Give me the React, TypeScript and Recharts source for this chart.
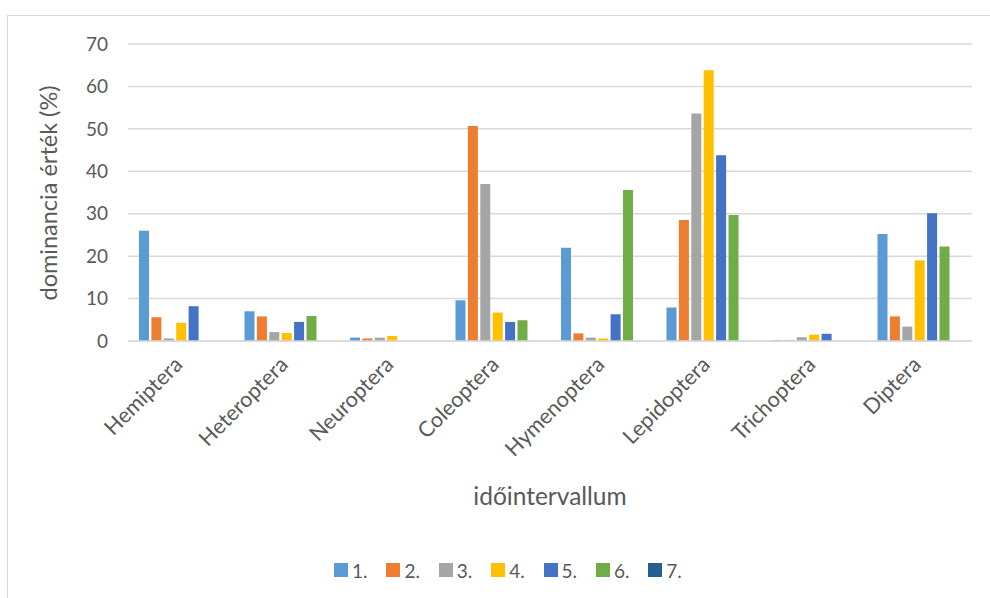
import React from "react";
import { BarChart, Bar, XAxis, YAxis, CartesianGrid } from "recharts";

const categories = [
  "Hemiptera",
  "Heteroptera",
  "Neuroptera",
  "Coleoptera",
  "Hymenoptera",
  "Lepidoptera",
  "Trichoptera",
  "Diptera",
];

const s1 = [26.0, 7.0, 0.8, 9.6, 22.0, 7.9, 0.2, 25.2];
const s2 = [5.6, 5.8, 0.6, 50.7, 1.8, 28.5, 0.2, 5.8];
const s3 = [0.6, 2.1, 0.8, 37.0, 0.8, 53.6, 0.9, 3.4];
const s4 = [4.3, 1.9, 1.2, 6.7, 0.6, 63.8, 1.5, 19.0];
const s5 = [8.2, 4.5, 0, 4.5, 6.3, 43.8, 1.7, 30.1];
const s6 = [0, 5.9, 0, 4.9, 35.6, 29.7, 0, 22.3];
const s7 = [null, null, null, null, null, null, null, null];

const seriesNames = ["1.", "2.", "3.", "4.", "5.", "6.", "7."];
const seriesColors = ["#5B9BD5", "#ED7D31", "#A5A5A5", "#FFC000", "#4472C4", "#70AD47", "#255E91"];
const yTicks = [0, 10, 20, 30, 40, 50, 60, 70];

const allSeries = [s1, s2, s3, s4, s5, s6, s7];

const data = categories.map((name, i) => {
  const row: any = { name };
  allSeries.forEach((s, k) => {
    row["s" + (k + 1)] = s[i];
  });
  return row;
});

const FONT = "Lato, 'Open Sans', sans-serif";
const TEXT = "#595959";

const XTick = (props: any) => {
  const { x, y, payload } = props;
  return (
    <g transform={`translate(${x + 3},${y + 17})`}>
      <text
        x={0}
        y={0}
        textAnchor="end"
        transform="rotate(-45)"
        fontSize={21.5}
        fontFamily={FONT}
        fill={TEXT}
      >
        {payload.value}
      </text>
    </g>
  );
};

export default function App() {
  return (
    <div
      style={{
        position: "absolute",
        left: 0,
        top: 0,
        width: 990,
        height: 598,
        overflow: "hidden",
        background: "#fff",
      }}
    >
      <div
        style={{
          position: "absolute",
          left: 7,
          top: 15,
          width: 1000,
          height: 600,
          border: "1.5px solid #d9d9d9",
        }}
      />
      <div style={{ position: "absolute", left: 0, top: 0 }}>
        <BarChart
          width={990}
          height={598}
          data={data}
          margin={{ top: 44, right: 18, left: 0, bottom: 0 }}
          barGap={2.4}
          barSize={10}
        >
          <CartesianGrid vertical={false} stroke="#d9d9d9" strokeWidth={1.5} />
          <XAxis
            dataKey="name"
            height={257}
            axisLine={{ stroke: "#d9d9d9", strokeWidth: 1.5 }}
            tickLine={false}
            tick={<XTick />}
            interval={0}
            label={{
              content: () => (
                <text
                  x={550}
                  y={505}
                  textAnchor="middle"
                  fontSize={24.5}
                  fontFamily={FONT}
                  fill={TEXT}
                >
                  időintervallum
                </text>
              ),
            }}
          />
          <YAxis
            width={128}
            domain={[0, 70]}
            ticks={yTicks}
            axisLine={false}
            tickLine={false}
            tickSize={0}
            tickMargin={20}
            tick={{ fontSize: 19, fontFamily: FONT, fill: TEXT }}
            label={{
              content: () => (
                <text
                  x={48}
                  y={193}
                  transform="rotate(-90 48 193)"
                  textAnchor="middle"
                  dominantBaseline="central"
                  fontSize={23.5}
                  fontFamily={FONT}
                  fill={TEXT}
                >
                  dominancia érték (%)
                </text>
              ),
            }}
          />
          {seriesNames.map((n, k) => (
            <Bar
              key={n}
              dataKey={"s" + (k + 1)}
              name={n}
              fill={seriesColors[k]}
              isAnimationActive={false}
            />
          ))}
        </BarChart>
      </div>
      <div
        style={{
          position: "absolute",
          left: 334,
          top: 558,
          display: "flex",
          fontFamily: FONT,
          fontSize: 19,
          color: TEXT,
        }}
      >
        {seriesNames.map((n, k) => (
          <div
            key={n}
            style={{ display: "flex", alignItems: "center", width: 52.4, height: 24 }}
          >
            <span
              style={{
                display: "inline-block",
                width: 14,
                height: 14,
                background: seriesColors[k],
                marginRight: 4,
              }}
            />
            <span>{n}</span>
          </div>
        ))}
      </div>
    </div>
  );
}
